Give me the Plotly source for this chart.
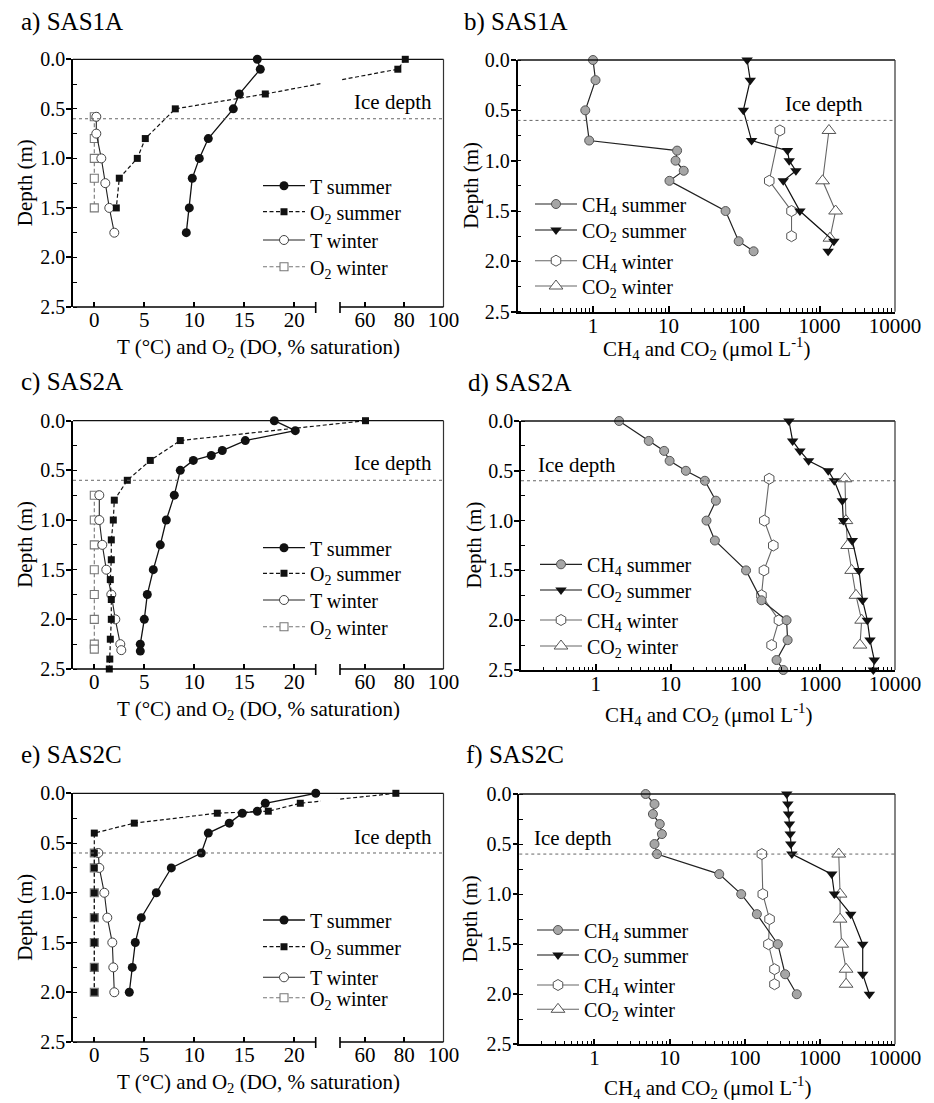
import plotly.graph_objects as go

FONT = "Liberation Serif, Times New Roman, serif"
W, H = 934, 1103
OFF = 8  # page body margin of the html page
FIG_W, FIG_H = W - OFF, H - OFF

# ======================= DATA =======================
# a) SAS1A : temperature (°C) and dissolved O2 (% saturation) vs depth (m)
a_T_sum_z = [0.0, 0.1, 0.35, 0.5, 0.8, 1.0, 1.2, 1.5, 1.75]
a_T_sum = [16.3, 16.6, 14.5, 13.9, 11.4, 10.5, 9.8, 9.5, 9.2]
a_O2_sum_z = [0.0, 0.1, 0.35, 0.5, 0.8, 1.0, 1.2, 1.5]
a_O2_sum = [80.5, 76.7, 17.1, 8.1, 5.1, 4.3, 2.5, 2.2]
a_T_win_z = [0.58, 0.75, 1.0, 1.25, 1.5, 1.75]
a_T_win = [0.2, 0.2, 0.7, 1.1, 1.5, 2.0]
a_O2_win_z = [0.58, 0.8, 1.0, 1.2, 1.5]
a_O2_win = [0.0, 0.0, 0.0, 0.0, 0.0]

# c) SAS2A
c_T_sum_z = [0.0, 0.1, 0.2, 0.3, 0.35, 0.4, 0.5, 0.75, 1.0, 1.25, 1.5, 1.75, 2.0, 2.25, 2.32]
c_T_sum = [18.0, 20.1, 15.1, 12.8, 11.7, 9.9, 8.6, 8.0, 7.2, 6.6, 5.9, 5.3, 5.0, 4.6, 4.6]
c_O2_sum_z = [0.0, 0.2, 0.4, 0.6, 0.8, 1.0, 1.2, 1.4, 1.6, 1.8, 2.0, 2.2, 2.4, 2.5]
c_O2_sum = [60.2, 8.6, 5.6, 3.3, 2.0, 1.9, 1.7, 1.7, 1.6, 1.7, 1.7, 1.6, 1.55, 1.5]
c_T_win_z = [0.75, 1.0, 1.25, 1.5, 1.75, 2.0, 2.25, 2.31]
c_T_win = [0.5, 0.5, 0.8, 1.2, 1.7, 2.1, 2.6, 2.7]
c_O2_win_z = [0.75, 1.0, 1.25, 1.5, 1.75, 2.0, 2.25, 2.3]
c_O2_win = [0.0, 0.0, 0.0, 0.0, 0.0, 0.0, 0.0, 0.0]

# e) SAS2C
e_T_sum_z = [0.0, 0.1, 0.18, 0.2, 0.3, 0.4, 0.6, 0.75, 1.0, 1.25, 1.5, 1.75, 2.0]
e_T_sum = [22.2, 17.1, 16.3, 14.8, 13.5, 11.4, 10.7, 7.7, 6.2, 4.7, 4.1, 3.8, 3.5]
e_O2_sum_z = [0.0, 0.1, 0.18, 0.2, 0.3, 0.4, 0.6, 0.75, 1.0, 1.25, 1.5, 1.75, 2.0]
e_O2_sum = [75.7, 20.6, 17.4, 12.3, 4.0, 0.0, 0.0, 0.0, 0.0, 0.0, 0.0, 0.0, 0.0]
e_T_win_z = [0.6, 0.75, 1.0, 1.25, 1.5, 1.75, 2.0]
e_T_win = [0.4, 0.5, 1.0, 1.3, 1.8, 1.9, 2.0]
e_O2_win_z = [0.6, 0.75, 1.0, 1.25, 1.5, 1.75, 2.0]
e_O2_win = [0.0, 0.0, 0.0, 0.0, 0.0, 0.0, 0.0]

# b) SAS1A : CH4 and CO2 (µmol/L) vs depth (m)
b_CH4_sum_z = [0.0, 0.2, 0.5, 0.8, 0.9, 1.0, 1.1, 1.2, 1.5, 1.8, 1.9]
b_CH4_sum = [1.0, 1.08, 0.79, 0.89, 13.0, 12.4, 15.9, 10.3, 57.0, 85.0, 134.0]
b_CO2_sum_z = [0.0, 0.2, 0.5, 0.8, 0.9, 1.0, 1.1, 1.2, 1.5, 1.8, 1.9]
b_CO2_sum = [110, 121, 98, 126, 377, 397, 487, 331, 550, 1550, 1300]
b_CH4_win_z = [0.7, 1.2, 1.5, 1.75]
b_CH4_win = [299, 216, 426, 426]
b_CO2_win_z = [0.7, 1.2, 1.5, 1.77]
b_CO2_win = [1334, 1099, 1634, 1374]

# d) SAS2A
d_CH4_sum_z = [0.0, 0.2, 0.3, 0.4, 0.5, 0.6, 0.8, 1.0, 1.2, 1.5, 1.8, 2.0, 2.2, 2.4, 2.5]
d_CH4_sum = [2.05, 5.1, 8.2, 9.7, 16.0, 28.7, 40.3, 30.2, 39.1, 102, 164, 355, 367, 261, 321]
d_CO2_sum_z = [0.0, 0.2, 0.3, 0.4, 0.5, 0.6, 0.8, 1.0, 1.2, 1.5, 1.8, 2.0, 2.2, 2.4, 2.5]
d_CO2_sum = [382, 428, 536, 700, 1282, 1543, 1974, 2037, 2688, 3297, 3690, 4264, 4634, 5286, 5130]
d_CH4_win_z = [0.58, 1.0, 1.25, 1.5, 1.75, 2.0, 2.25]
d_CH4_win = [208, 179, 236, 177, 164, 281, 224]
d_CO2_win_z = [0.58, 1.0, 1.25, 1.5, 1.75, 2.0, 2.25]
d_CO2_win = [2143, 2208, 2327, 2633, 3007, 3583, 3404]

# f) SAS2C
f_CH4_sum_z = [0.0, 0.1, 0.2, 0.3, 0.4, 0.5, 0.6, 0.8, 1.0, 1.2, 1.5, 1.8, 2.0]
f_CH4_sum = [4.8, 6.3, 6.0, 7.4, 7.9, 6.3, 6.8, 45.8, 89.8, 145, 276, 345, 493]
f_CO2_sum_z = [0.0, 0.1, 0.2, 0.3, 0.4, 0.5, 0.6, 0.8, 1.0, 1.2, 1.5, 1.8, 2.0]
f_CO2_sum = [363, 375, 383, 394, 403, 410, 424, 1439, 1562, 2577, 3718, 3718, 4560]
f_CH4_win_z = [0.6, 1.0, 1.25, 1.5, 1.75, 1.9]
f_CH4_win = [169, 174, 214, 207, 249, 249]
f_CO2_win_z = [0.6, 1.0, 1.25, 1.5, 1.75, 1.9]
f_CO2_win = [1783, 1858, 1858, 1954, 2233, 2233]

PANEL_LABELS = {"a": "a) SAS1A", "b": "b) SAS1A", "c": "c) SAS2A",
                "d": "d) SAS2A", "e": "e) SAS2C", "f": "f) SAS2C"}
TE_NAMES = ["T summer", "O<sub>2</sub> summer", "T winter", "O<sub>2</sub> winter"]
GAS_NAMES = ["CH<sub>4</sub> summer", "CO<sub>2</sub> summer",
             "CH<sub>4</sub> winter", "CO<sub>2</sub> winter"]
TE_XTITLE = "T (°C) and O<sub>2</sub> (DO, % saturation)"
GAS_XTITLE = "CH<sub>4</sub> and CO<sub>2</sub> (μmol L<sup>-1</sup>)"
TE_TICKS = [0, 5, 10, 15, 20, 60, 80, 100]
LOG_TICKS = [1, 10, 100, 1000, 10000]
LOG_MINOR = [m * 10 ** e for e in range(-1, 4) for m in range(2, 10)]
ICE_DEPTH = 0.6

# ======================= GEOMETRY (pixels of the picture) =======================
GEOM = {
    "a": dict(x=(73.0, 443.5), y=(59.3, 307.0)),
    "b": dict(x=(517.5, 895.0), y=(60.0, 311.7)),
    "c": dict(x=(73.0, 443.5), y=(420.7, 669.0)),
    "d": dict(x=(521.0, 895.0), y=(421.0, 670.0)),
    "e": dict(x=(73.0, 443.5), y=(793.3, 1042.0)),
    "f": dict(x=(519.3, 895.0), y=(794.0, 1044.3)),
}
AXN = {"a": "", "b": "2", "c": "3", "d": "4", "e": "5", "f": "6"}

# broken x axis for T / O2 panels
BRK_LEFT = (-2.13, 22.14)
BRK_RIGHT = (47.2, 100.0)
BRK_PX = (242.7, 24.3, 103.5)  # left part, gap, right part


def brk(v):
    wl, wg, wr = BRK_PX
    tot = wl + wg + wr
    l0, l1 = BRK_LEFT
    r0, r1 = BRK_RIGHT
    if v <= l1:
        p = (v - l0) / (l1 - l0) * wl
    elif v >= r0:
        p = wl + wg + (v - r0) / (r1 - r0) * wr
    else:
        p = wl + (v - l1) / (r0 - l1) * wg
    return p / tot


def px(x):
    return (x - OFF) / FIG_W


def py(y):
    return 1 - (y - OFF) / FIG_H


# legend rows: symbol-left x, row centre y for each series
LEG = {
    "a": (263, [185.7, 211.7, 240.0, 266.7]),
    "b": (535, [204.0, 230.0, 260.7, 286.0]),
    "c": (263, [547.7, 573.3, 600.0, 626.7]),
    "d": (540, [564.3, 590.0, 620.0, 646.0]),
    "e": (263, [920.0, 946.7, 977.3, 997.7]),
    "f": (537, [930.0, 955.0, 985.0, 1009.3]),
}

ICE_TXT = {  # (x px, anchor, y px)
    "a": (434, "right", 101.7), "b": (865, "right", 104.0),
    "c": (434, "right", 463.0), "d": (536, "left", 465.0),
    "e": (434, "right", 836.7), "f": (532, "left", 838.0),
}
XTITLE_Y = {"a": 348, "b": 348, "c": 710, "d": 714, "e": 1083, "f": 1087}
YTITLE_X = {"a": 25, "b": 471, "c": 25, "d": 473, "e": 25, "f": 470}
LABEL_POS = {"a": (19, 22), "b": (462, 22), "c": (19, 382), "d": (466, 383),
             "e": (19, 755), "f": (464, 755)}

STYLE = {
    "T summer": dict(line=dict(color="#111", width=1.3),
                     marker=dict(symbol="circle", size=9, color="#111")),
    "O2 summer": dict(line=dict(color="#111", width=1.2, dash="4px,2.5px"),
                      marker=dict(symbol="square", size=7, color="#111")),
    "T winter": dict(line=dict(color="#222", width=1.1),
                     marker=dict(symbol="circle", size=9, color="white",
                                 line=dict(color="#444", width=1))),
    "O2 winter": dict(line=dict(color="#777", width=1.1, dash="4px,2.5px"),
                      marker=dict(symbol="square", size=8, color="white",
                                  line=dict(color="#777", width=1.1))),
    "CH4 summer": dict(line=dict(color="#222", width=1.2),
                       marker=dict(symbol="circle", size=9, color="#a6a6a6",
                                   line=dict(color="#555", width=1))),
    "CO2 summer": dict(line=dict(color="#111", width=1.2),
                       marker=dict(symbol="triangle-down", size=10, color="#111")),
    "CH4 winter": dict(line=dict(color="#666", width=1.1),
                       marker=dict(symbol="hexagon", size=11, color="white",
                                   line=dict(color="#555", width=1))),
    "CO2 winter": dict(line=dict(color="#666", width=1.1),
                       marker=dict(symbol="triangle-up", size=12, color="white",
                                   line=dict(color="#555", width=1))),
}

TE_SERIES = {
    "a": [(a_T_sum, a_T_sum_z), (a_O2_sum, a_O2_sum_z), (a_T_win, a_T_win_z), (a_O2_win, a_O2_win_z)],
    "c": [(c_T_sum, c_T_sum_z), (c_O2_sum, c_O2_sum_z), (c_T_win, c_T_win_z), (c_O2_win, c_O2_win_z)],
    "e": [(e_T_sum, e_T_sum_z), (e_O2_sum, e_O2_sum_z), (e_T_win, e_T_win_z), (e_O2_win, e_O2_win_z)],
}
GAS_SERIES = {
    "b": [(b_CH4_sum, b_CH4_sum_z), (b_CO2_sum, b_CO2_sum_z), (b_CH4_win, b_CH4_win_z), (b_CO2_win, b_CO2_win_z)],
    "d": [(d_CH4_sum, d_CH4_sum_z), (d_CO2_sum, d_CO2_sum_z), (d_CH4_win, d_CH4_win_z), (d_CO2_win, d_CO2_win_z)],
    "f": [(f_CH4_sum, f_CH4_sum_z), (f_CO2_sum, f_CO2_sum_z), (f_CH4_win, f_CH4_win_z), (f_CO2_win, f_CO2_win_z)],
}
TE_KEYS = ["T summer", "O2 summer", "T winter", "O2 winter"]
GAS_KEYS = ["CH4 summer", "CO2 summer", "CH4 winter", "CO2 winter"]

fig = go.Figure()
legends = {}
shapes = []
annotations = []
layout_axes = {}
leg_count = [0]


def new_legend(sx, cy):
    leg_count[0] += 1
    lid = "legend" if leg_count[0] == 1 else f"legend{leg_count[0]}"
    legends[lid] = dict(x=px(sx - 5), y=py(cy), xanchor="left", yanchor="middle",
                        itemwidth=42, bgcolor="rgba(0,0,0,0)", borderwidth=0,
                        font=dict(family=FONT, size=20, color="black"))
    return lid


def add_series(key, series, keys, names, transform):
    n = AXN[key]
    sx, rows = LEG[key]
    order = [3, 2, 1, 0]  # draw winter first, summer on top
    lids = [new_legend(sx, rows[i]) for i in range(4)]
    for i in order:
        vals, depth = series[i]
        xs = [transform(v) for v in vals]
        fig.add_trace(go.Scatter(
            x=xs, y=depth, mode="lines+markers", name=names[i],
            legend=lids[i], xaxis="x" + n, yaxis="y" + n, cliponaxis=False,
            hoverinfo="skip", **STYLE[keys[i]]))


def common_decor(key):
    g = GEOM[key]
    n = AXN[key]
    x0, x1 = g["x"]
    y0, y1 = g["y"]
    # ice depth dotted line
    shapes.append(dict(type="line", xref="paper", yref="y" + n, x0=px(x0), x1=px(x1),
                       y0=ICE_DEPTH, y1=ICE_DEPTH, layer="above",
                       line=dict(color="#666", width=1, dash="dot")))
    # top and right frame
    shapes.append(dict(type="line", xref="paper", yref="paper", x0=px(x0), x1=px(x1),
                       y0=py(y0), y1=py(y0), layer="above", line=dict(color="#111", width=1.3)))
    shapes.append(dict(type="line", xref="paper", yref="paper", x0=px(x1), x1=px(x1),
                       y0=py(y0), y1=py(y1), layer="above", line=dict(color="#333", width=1.2)))
    tx, anc, ty = ICE_TXT[key]
    annotations.append(dict(text="Ice depth", xref="paper", yref="paper", x=px(tx), y=py(ty),
                            xanchor=anc, yanchor="middle", showarrow=False,
                            font=dict(family=FONT, size=21, color="black")))
    lx, ly = LABEL_POS[key]
    annotations.append(dict(text=PANEL_LABELS[key], xref="paper", yref="paper", x=px(lx), y=py(ly),
                            xanchor="left", yanchor="middle", showarrow=False,
                            font=dict(family=FONT, size=25, color="black")))
    annotations.append(dict(text="Depth (m)", xref="paper", yref="paper", x=px(YTITLE_X[key]),
                            y=py((y0 + y1) / 2), textangle=-90, xanchor="center", yanchor="middle",
                            showarrow=False, font=dict(family=FONT, size=21, color="black")))
    layout_axes["yaxis" + n] = dict(
        domain=[py(y1), py(y0)], range=[2.5, 0], anchor="x" + n, automargin=False,
        tick0=0, dtick=0.5, tickformat=".1f", ticks="outside", ticklen=5, tickwidth=1.5,
        tickcolor="black", showline=True, linewidth=1.6, linecolor="black", mirror=False,
        showgrid=False, zeroline=False, fixedrange=True, ticklabelstandoff=-3,
        minor=dict(tick0=0, dtick=0.25, ticks="inside", ticklen=4, tickwidth=1.3,
                   tickcolor="black", showgrid=False),
        tickfont=dict(family=FONT, size=20, color="black"))


for key in ["a", "c", "e"]:
    g = GEOM[key]
    n = AXN[key]
    x0, x1 = g["x"]
    y0, y1 = g["y"]
    wl, wg, wr = BRK_PX
    # white mask hiding lines inside the axis break (drawn before other decorations)
    shapes.append(dict(type="rect", xref="paper", yref="paper",
                       x0=px(x0 + wl + 5), x1=px(x0 + wl + wg), y0=py(y1 - 1), y1=py(y0 + 5),
                       fillcolor="white", line=dict(width=0), layer="above"))
    add_series(key, TE_SERIES[key], TE_KEYS, TE_NAMES, brk)
    common_decor(key)
    # broken bottom axis: two segments with end caps
    xl_end = x0 + wl
    xr_start = x0 + wl + wg
    for sa, sb in [(x0, xl_end), (xr_start, x1)]:
        shapes.append(dict(type="line", xref="paper", yref="paper", x0=px(sa), x1=px(sb),
                           y0=py(y1), y1=py(y1), layer="above", line=dict(color="black", width=1.6)))
    for cx in [xl_end, xr_start]:
        shapes.append(dict(type="line", xref="paper", yref="paper", x0=px(cx), x1=px(cx),
                           y0=py(y1 + 6), y1=py(y1 - 5), layer="above", line=dict(color="black", width=1.6)))
    layout_axes["xaxis" + n] = dict(
        domain=[px(x0), px(x1)], range=[0, 1], anchor="y" + n, automargin=False,
        tickmode="array", tickvals=[brk(v) for v in TE_TICKS], ticktext=[str(v) for v in TE_TICKS],
        ticks="inside", ticklen=5, tickwidth=1.5, tickcolor="black", ticklabelstandoff=-2,
        showline=False, showgrid=False, zeroline=False, fixedrange=True,
        tickfont=dict(family=FONT, size=21, color="black"))
    annotations.append(dict(text=TE_XTITLE, xref="paper", yref="paper", x=px((x0 + x1) / 2),
                            y=py(XTITLE_Y[key]), xanchor="center", yanchor="middle", showarrow=False,
                            font=dict(family=FONT, size=21, color="black")))

for key in ["b", "d", "f"]:
    g = GEOM[key]
    n = AXN[key]
    x0, x1 = g["x"]
    add_series(key, GAS_SERIES[key], GAS_KEYS, GAS_NAMES, lambda v: v)
    common_decor(key)
    layout_axes["xaxis" + n] = dict(
        domain=[px(x0), px(x1)], type="log", range=[-1, 4], anchor="y" + n, automargin=False,
        tickmode="array", tickvals=LOG_TICKS, ticktext=[str(v) for v in LOG_TICKS],
        ticks="inside", ticklen=6, tickwidth=1.5, tickcolor="black", ticklabelstandoff=-6,
        showline=True, linewidth=1.6, linecolor="black",
        showgrid=False, zeroline=False, fixedrange=True,
        minor=dict(tickmode="array", tickvals=LOG_MINOR, ticks="inside", ticklen=3.5,
                   tickwidth=1.2, tickcolor="black", showgrid=False),
        tickfont=dict(family=FONT, size=21, color="black"))
    annotations.append(dict(text=GAS_XTITLE, xref="paper", yref="paper", x=px((x0 + x1) / 2),
                            y=py(XTITLE_Y[key]), xanchor="center", yanchor="middle", showarrow=False,
                            font=dict(family=FONT, size=21, color="black")))

fig.update_layout(
    template="none",
    width=FIG_W, height=FIG_H, margin=dict(l=0, r=0, t=0, b=0, pad=0, autoexpand=False),
    paper_bgcolor="white", plot_bgcolor="white",
    font=dict(family=FONT, size=20, color="black"),
    showlegend=True, shapes=shapes, annotations=annotations,
    **layout_axes, **legends)

fig.write_html("out.html")
